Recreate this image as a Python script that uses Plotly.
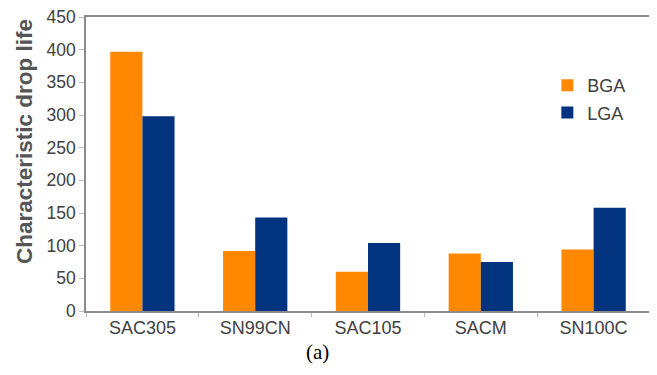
import plotly.graph_objects as go

categories = ["SAC305", "SN99CN", "SAC105", "SACM", "SN100C"]
bga = [397, 92, 60, 88, 94]
lga = [298, 143, 104, 75, 158]
y_ticks = [0, 50, 100, 150, 200, 250, 300, 350, 400, 450]

fig = go.Figure()
fig.add_trace(go.Bar(x=categories, y=bga, name="BGA", legendgroup="a",
                     marker=dict(color="#FF8800", line=dict(width=0))))
fig.add_trace(go.Bar(x=categories, y=lga, name="LGA", legendgroup="b",
                     marker=dict(color="#02337F", line=dict(width=0))))

# page body has an 8px default margin, so the figure is sized/offset to compensate
fig.update_layout(
    width=649, height=367,
    margin=dict(l=78, r=7, t=9, b=64, autoexpand=False),
    paper_bgcolor="white", plot_bgcolor="white",
    barmode="group", bargap=0.43, bargroupgap=0,
    font=dict(family="Liberation Sans, Arial, sans-serif", color="#404040", size=18),
    showlegend=True,
    legend=dict(x=0.818, y=0.83, xanchor="left", yanchor="top", bgcolor="rgba(0,0,0,0)",
                font=dict(size=18, color="#404040"), itemwidth=30, tracegroupgap=1),
    annotations=[
        dict(text="(a)", x=0.41, xref="paper", y=-0.14, yref="paper", yanchor="middle",
             showarrow=False,
             font=dict(family="Liberation Serif, Times New Roman, serif", size=21, color="black")),
        dict(text="<b>Characteristic drop life</b>", textangle=-90, x=-0.11, xref="paper",
             y=0.578, yref="paper", xanchor="center", yanchor="middle", showarrow=False,
             font=dict(size=22.5, color="#555555")),
    ],
)
fig.update_xaxes(showline=True, linecolor="#8c8c8c", linewidth=1.5, mirror=True, automargin=False,
                 ticks="outside", ticklen=4, tickcolor="#bbbbbb", tickson="boundaries",
                 showgrid=False, tickfont=dict(size=18, color="#404040"))
fig.update_yaxes(range=[0, 450], tickvals=y_ticks, showline=True, linecolor="#8c8c8c", linewidth=1.5,
                 mirror=True, automargin=False, ticklabeloverflow="allow",
                 ticks="outside", ticklen=5, tickcolor="#bbbbbb", showgrid=False, zeroline=False,
                 tickfont=dict(size=17.5, color="#404040"))

fig.write_html("out.html")
